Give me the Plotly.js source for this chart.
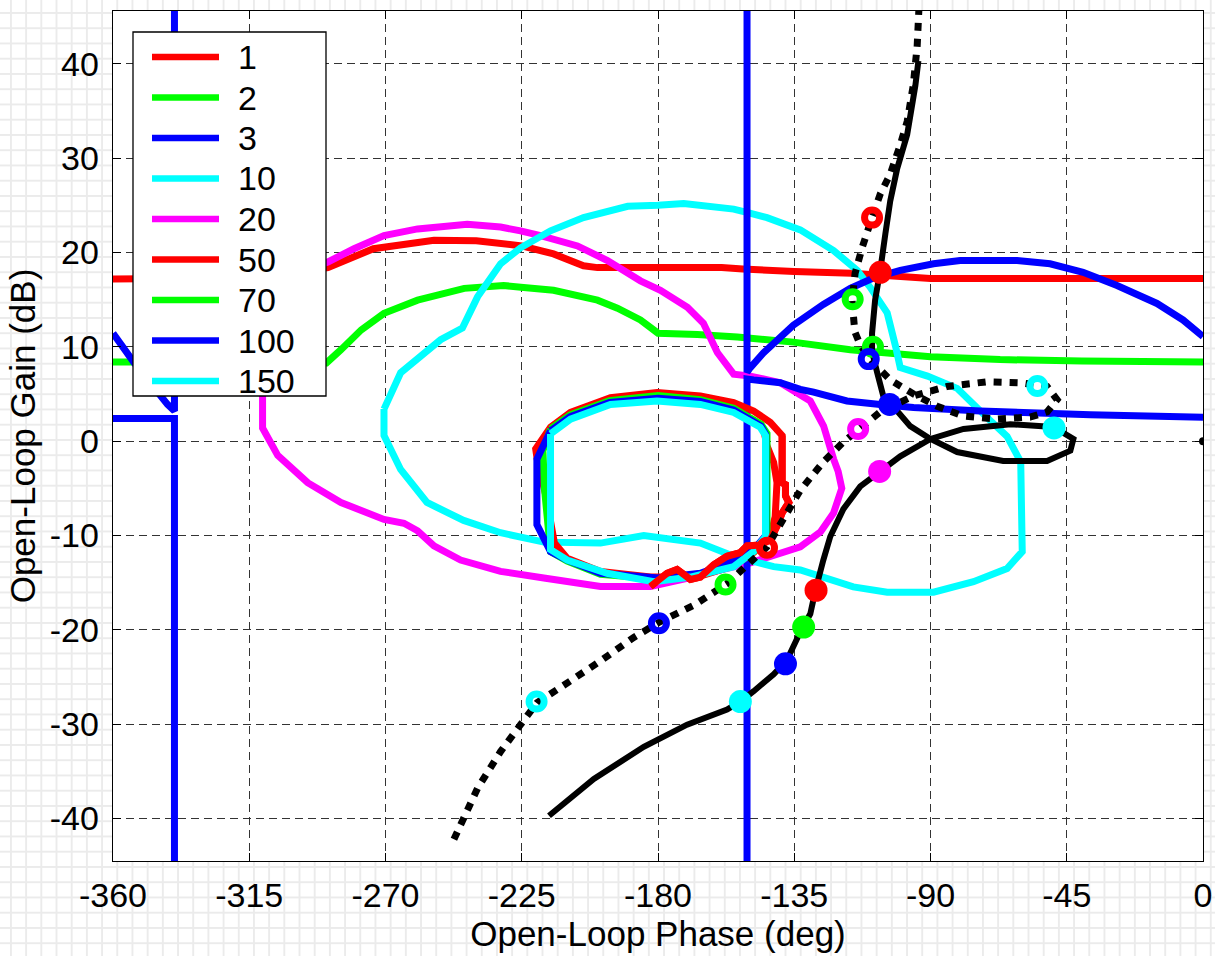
<!DOCTYPE html>
<html><head><meta charset="utf-8">
<script src="https://cdn.plot.ly/plotly-3.0.1.min.js"></script>
<style>
html,body{margin:0;padding:0;}
body{width:1215px;height:956px;background-color:#fff;
background-image:linear-gradient(to right,#ebebeb 2px,transparent 2px),linear-gradient(to bottom,#ebebeb 2px,transparent 2px);
background-size:15.2px 15.25px;background-position:10px 12px;overflow:hidden;}
#chart{width:1215px;height:956px;}
</style></head><body><div id="chart"></div><script>
// ---- legend / series ----
const seriesNames = ['1','2','3','10','20','50','70','100','150'];
const seriesColors = ['#ff0000','#00ff00','#0000ff','#00ffff','#ff00ff','#ff0000','#00ff00','#0000ff','#00ffff'];

// ---- series data: open-loop phase (deg) / gain (dB) ----
const phase_1 = [-182.5,-177,-173.7,-169.3,-166,-161.6,-157.2,-152.8,-150.6,-146.2,-142.9,-140.7,-139,-136.8,-137.9,-137.9,-139,-139,-142.9,-148.4,-155,-166,-180.3,-195.7,-208.9,-215.5,-220.4,-219.9,-217,-214.2,-210,-199,-182.5,-166,-155,-148.4,-142.9,-141.3,-140.7,-141.8,-144,-145];
const gain_1  = [-15.4,-14.0,-13.6,-14.65,-14.4,-13.1,-12.2,-11.8,-11.1,-11.0,-10.45,-9.0,-7.6,-6.5,-5.8,-4.6,-4.4,0.6,2.0,3.2,4.1,4.8,5.15,4.6,3.05,1.47,-0.8,-1.9,-5.8,-10.8,-12.4,-13.8,-14.4,-14.3,-13.2,-11.8,-10.1,-8.0,-4.4,-2.25,-0.5,1.1];

const phase_2 = [-215.5,-209,-196,-180,-166,-155,-146,-144,-144,-148,-155,-166,-180,-199,-210,-215.5,-217.5,-218,-215.5];
const gain_2  = [1.3,2.8,4.3,4.85,4.4,3.5,1.8,0.8,-10,-11.6,-13,-14.2,-14.6,-14.1,-12.7,-11.7,-5,-1,1.3];

const phase_3 = [-215.5,-209,-196,-180,-166,-155,-146,-144.4,-144.4,-148.4,-155,-166,-180,-199,-210,-215.5,-220,-220,-215.5];
const gain_3  = [1.1,2.6,4.1,4.55,4.2,3.3,1.6,0.7,-10,-11.5,-12.7,-14.0,-14.5,-14.0,-12.6,-11.7,-8.85,-1.9,1.1];

const phase_10 = [-215.5,-208.9,-195.7,-180.3,-166,-155,-146.2,-144.5,-144.5,-148.4,-155,-169.3,-181.4,-196.8,-210,-215.5,-215.5];
const gain_10  = [0.77,2.34,3.9,4.26,3.9,3.05,1.47,0.6,-10.1,-11.7,-13.3,-14.4,-14.9,-14.0,-12.6,-11.5,0.77];

const phase_20 = [-310.6,-310.6,-305.6,-295.7,-284.7,-270.5,-263.9,-259.4,-254,-245.2,-232,-217.7,-199,-182.5,-170,-160,-149.5,-133,-126.3,-122,-119.3,-120.5,-122,-125.3,-129.7,-139.6,-149.5,-155,-160.4,-165,-170.3,-179.2,-185.8,-196.7,-206.6,-218.8,-225.4,-232,-243,-259.4,-270.5,-280.4,-289,-298];
const gain_20  = [6.5,1.4,-1.5,-4.4,-6.5,-8.3,-8.7,-9.5,-11.1,-12.6,-13.8,-14.5,-15.4,-15.4,-14.5,-13.7,-12.9,-11.2,-9.6,-7.6,-5.0,-3.2,-1.9,1.6,4.26,6.2,6.9,7.1,9.4,12.5,14.2,16.0,17.0,19.15,20.7,21.8,22.3,22.7,23.0,22.5,21.8,20.4,19.0,18.0];

const phase_50 = [-360,-320,-300,-289,-274,-254,-240,-225,-214.5,-204.6,-200,-159,-152,-135,-116,-90,0];
const gain_50  = [17.2,17.3,17.9,18.4,20.4,21.3,21.25,20.7,19.85,18.6,18.4,18.4,18.25,18.0,17.8,17.25,17.25];

const phase_70 = [-360,-320,-295,-289.5,-284.7,-278,-270.5,-259.4,-244,-231,-224.4,-214.5,-200,-193.4,-185.8,-180,-167,-153.8,-135.3,-116.5,-90,-67,-40,0];
const gain_70  = [8.4,8.4,8.3,8.3,9.7,11.8,13.55,14.95,16.2,16.5,16.3,16.0,14.95,14.1,12.85,11.45,11.3,11.05,10.5,9.7,8.95,8.65,8.5,8.4];

// phase wraps at -360/0 and runs off-scale at the two vertical jumps (null = break)
const phase_100 = [-150.6,-150.6,-149.5,-145.2,-135.3,-125.4,-116.5,-108.9,-100,-89,-80.2,-61.4,-50.5,-39.6,-28.4,-15.2,-6.6,0,null,-360,-353,-342,-339.7,-339.7,null,-150.6,-150.6,-148.4,-139.6,-133,-128.6,-117.6,-106.6,-95.6,-73.5,-37.2,0,null,-360,-339.7,-339.7];
const gain_100  = [60,7.3,7.8,9.35,12.3,14.5,16.2,17.3,18.1,18.8,19.15,19.15,18.8,17.9,16.5,14.6,12.85,11.1,null,11.45,8.3,3.9,3.2,60,null,-60,6.6,6.5,6.2,5.5,5.2,4.26,3.9,3.57,3.2,2.8,2.55,null,2.4,2.4,-60];

const phase_150 = [-270.5,-265,-258.4,-251.8,-244.6,-239.6,-232,-225.4,-215.5,-204.6,-190,-180,-171.5,-155,-150,-144,-133,-122,-114.2,-109.9,-104.3,-101.5,-100,-91,-81.2,-71,-64.7,-60.2,-59.7,-64.7,-75.8,-89,-104.3,-115.5,-133,-141.8,-155,-166,-184.7,-199,-217.7,-232,-244.2,-256.3,-265,-270.5,-270.5];
const gain_150  = [3.4,7.25,9.0,10.75,12.0,15.3,18.8,20.5,22.3,23.7,24.9,25.0,25.2,24.6,24.2,23.7,22.4,20.2,18.1,16.3,13.6,10.0,7.8,6.9,5.6,2.4,0.5,-2.2,-11.7,-13.5,-14.9,-16.0,-16.0,-15.45,-13.65,-13.3,-12.2,-10.8,-10.0,-10.8,-10.7,-9.7,-8.4,-6.5,-3.0,0.6,3.4];

// black reference curves
const phase_solid = [-216,-201.2,-184.7,-170.4,-157.2,-152.8,-148.4,-141.8,-137.4,-133,-129.7,-128,-125.4,-123.1,-118.8,-113.2,-106.6,-100,-90,-79.1,-63.6,-49.4,-42.8,-43.8,-51.5,-66,-81.2,-90,-96.7,-101,-105.6,-107.6,-109.3,-109.3,-108.3,-106.6,-104.9,-103.3,-101,-97.7,-95,-94];
const gain_solid  = [-39.7,-35.8,-32.4,-30.05,-28.45,-27.6,-26.5,-24.7,-23.2,-20.2,-18.3,-15.8,-12.6,-10.1,-7.2,-4.8,-3.2,-1.6,0.24,1.3,1.8,1.5,0.24,-1.0,-2.1,-2.1,-1.15,0.24,1.6,3.2,4.8,7.25,9.5,11.45,14.95,18.1,22.0,25.45,28.9,32.5,37.7,40.3];

const phase_dotted = [-247.4,-239.6,-232,-225.4,-219.9,-212.2,-199,-188,-179.7,-168.2,-157.2,-144,-133,-125.4,-118.8,-106.6,-95.6,-84.5,-71.3,-60.4,-51.5,-48.2,-51.5,-57.1,-68,-79.1,-87.8,-95.6,-103.3,-108.9,-113.2,-115,-115.9,-114.9,-112.5,-109.3,-106.6,-103.3,-100,-97.7,-95.7,-94.4,-93.8];
const gain_dotted  = [-42.2,-36.8,-32.9,-30.05,-27.7,-26.1,-23.3,-20.8,-19.2,-17.4,-15.1,-11.2,-5.2,-2.2,-0.1,3.1,4.8,5.8,6.3,6.2,5.8,4.4,3.1,2.55,2.35,2.66,3.7,5.0,6.5,8.3,10.2,11.6,14.95,17.8,20.6,23.7,26.2,28.3,31.4,33.9,37.7,41.9,46];

// frequency markers: open rings and filled dots, keyed by series name
const ringPhase  = [-109.3,-144,-115.7,-109,-157.7,-110.4,-179.7,-113.9,-54.7,-220.1];
const ringGain   = [23.7,-11.3,15.05,10.0,-15.2,8.7,-19.3,1.3,5.85,-27.6];
const ringSeries = ['1','1','2','2','2','3','3','20','10','10'];
const dotPhase   = [-106.6,-127.8,-131.9,-103.5,-137.9,-106.8,-49.2,-152.8];
const dotGain    = [17.9,-15.8,-19.7,3.9,-23.6,-3.2,1.4,-27.6];
const dotSeries  = ['1','1','2','3','3','20','10','10'];
const originPhase = [0];
const originGain  = [0];

// ---- axes ----
const xTickVals = [-360,-315,-270,-225,-180,-135,-90,-45,0];
const xTickText = ['-360','-315','-270','-225','-180','-135','-90','-45','0'];
const yTickVals = [-40,-30,-20,-10,0,10,20,30,40];
const yTickText = ['-40','-30','-20','-10','0','10','20','30','40'];

const FONT = 'Liberation Sans, Arial, Helvetica, sans-serif';
const colorOf = n => seriesColors[seriesNames.indexOf(n)];

function lineTrace(name, x, y, color, width, dash) {
  return {type:'scatter', mode:'lines', name:name, x:x, y:y, showlegend:false,
    connectgaps:false, line:{color:color, width:width, dash:dash||'solid', simplify:false}};
}

const SQUIGGLE_END = 18; // first points of series "1" sit on top of the other loops
const traces = [
  lineTrace('50', phase_50, gain_50, colorOf('50'), 7),
  lineTrace('70', phase_70, gain_70, colorOf('70'), 7),
  lineTrace('20', phase_20, gain_20, colorOf('20'), 7),
  lineTrace('150', phase_150, gain_150, colorOf('150'), 7),
  lineTrace('100', phase_100, gain_100, colorOf('100'), 7),
  lineTrace('1', phase_1, gain_1, colorOf('1'), 7),
  lineTrace('2', phase_2, gain_2, colorOf('2'), 7),
  lineTrace('3', phase_3, gain_3, colorOf('3'), 7),
  lineTrace('10', phase_10, gain_10, colorOf('10'), 7),
  lineTrace('1', phase_1.slice(0, SQUIGGLE_END), gain_1.slice(0, SQUIGGLE_END), colorOf('1'), 7),
  lineTrace('solid', phase_solid, gain_solid, '#000000', 6),
  lineTrace('dotted', phase_dotted, gain_dotted, '#000000', 7, '8px,8px'),
  {type:'scatter', mode:'markers', x:ringPhase, y:ringGain, showlegend:false,
   marker:{symbol:'circle-open', size:15, color:ringSeries.map(colorOf), line:{width:7, color:ringSeries.map(colorOf)}}},
  {type:'scatter', mode:'markers', x:dotPhase, y:dotGain, showlegend:false,
   marker:{symbol:'circle', size:23, color:dotSeries.map(colorOf), line:{width:0}}},
  {type:'scatter', mode:'markers', x:originPhase, y:originGain, showlegend:false,
   marker:{symbol:'circle', size:8, color:'#000000'}}
];

// ---- hand-drawn legend box (paper coords) ----
const L = 113, T = 11, W = 1090, H = 850;
const px = v => (v - L) / W;
const py = v => (T + H - v) / H;
const shapes = [{type:'rect', xref:'paper', yref:'paper', x0:px(133), x1:px(326), y0:py(396), y1:py(32),
  fillcolor:'#ffffff', line:{color:'#000000', width:1.3}, layer:'above'}];
const annotations = [];
seriesNames.forEach((n, i) => {
  const yy = py(57 + i * 40.5);
  shapes.push({type:'line', xref:'paper', yref:'paper', x0:px(152), x1:px(219), y0:yy, y1:yy,
    line:{color:seriesColors[i], width:6.5}, layer:'above'});
  annotations.push({xref:'paper', yref:'paper', x:px(236), y:yy, xanchor:'left', yanchor:'middle',
    text:n, showarrow:false, font:{family:FONT, size:34, color:'#000000'}});
});

const axisCommon = {
  showgrid:true, gridcolor:'#333333', gridwidth:1, griddash:'8px,5px', zeroline:false,
  showline:true, linecolor:'#000000', linewidth:1.3, mirror:'allticks',
  ticks:'inside', ticklen:8, tickcolor:'#000000', tickwidth:1,
  tickfont:{family:FONT, size:34, color:'#000000'}, tickmode:'array', fixedrange:true
};

const layout = {
  width:1215, height:956,
  margin:{l:L, r:12, t:T, b:95, pad:0},
  paper_bgcolor:'rgba(0,0,0,0)', plot_bgcolor:'#ffffff',
  showlegend:false, hovermode:false,
  xaxis:Object.assign({}, axisCommon, {range:[-360,0], tickvals:xTickVals, ticktext:xTickText,
    ticklabelstandoff:4,
    title:{text:'Open-Loop Phase (deg)', font:{family:FONT, size:35, color:'#000000'}, standoff:6}}),
  yaxis:Object.assign({}, axisCommon, {range:[-44.5,45.6], tickvals:yTickVals, ticktext:yTickText,
    ticklabelstandoff:6,
    title:{text:'Open-Loop Gain (dB)', font:{family:FONT, size:35, color:'#000000'}, standoff:3}}),
  shapes:shapes, annotations:annotations
};

Plotly.newPlot('chart', traces, layout, {staticPlot:true, displayModeBar:false});
</script></body></html>
